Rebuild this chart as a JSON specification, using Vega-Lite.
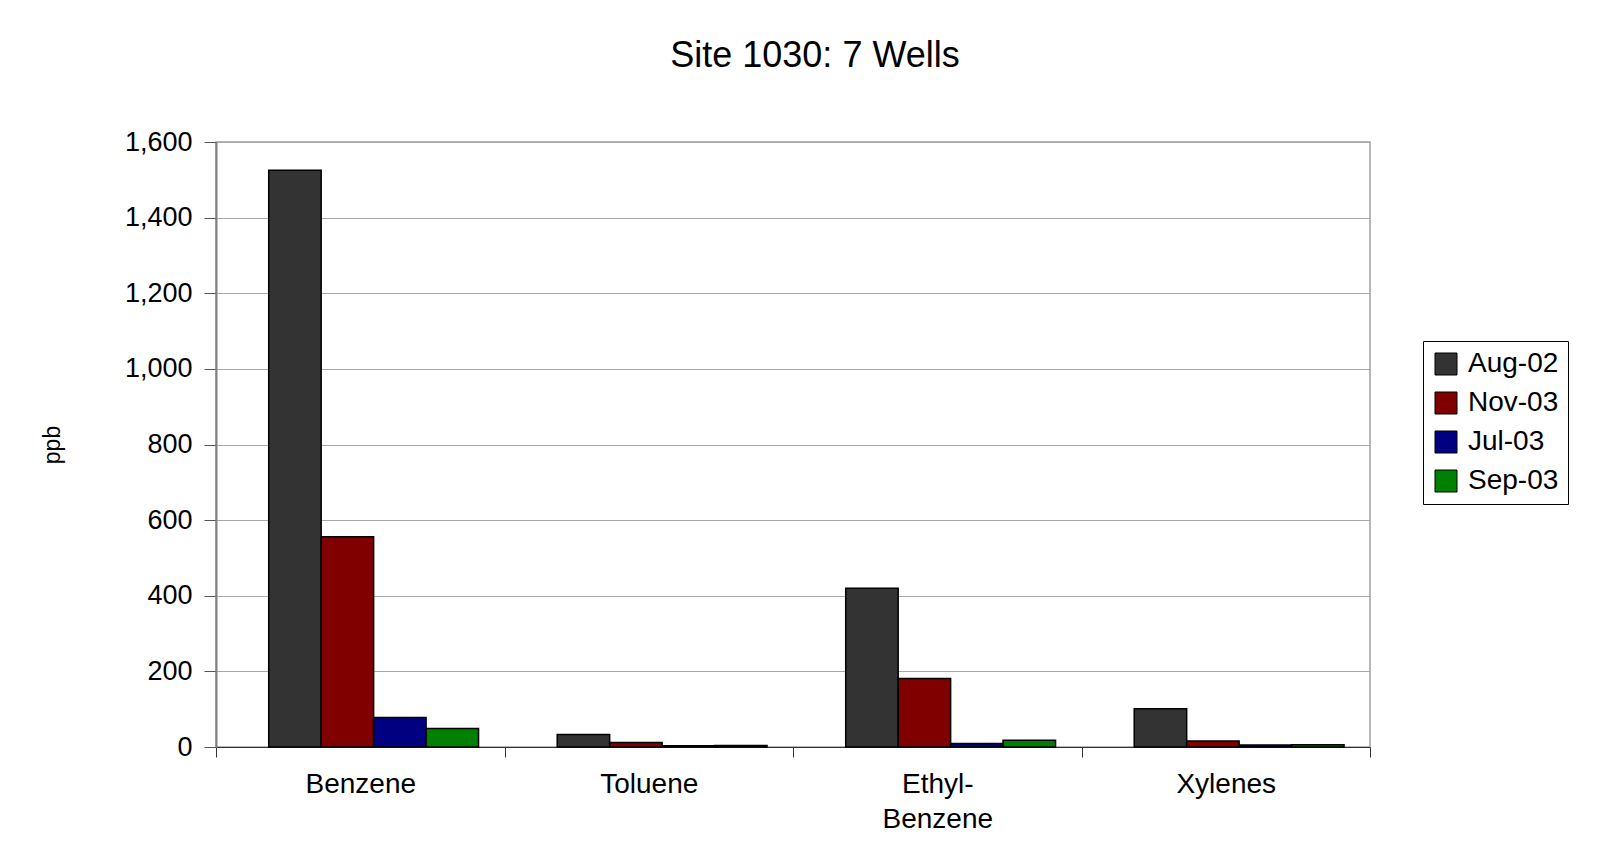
{
  "$schema": "https://vega.github.io/schema/vega-lite/v6.json",
  "autosize": "none",
  "width": 1154,
  "height": 605,
  "padding": {"left": 216, "top": 142, "right": 239, "bottom": 106},
  "background": "white",
  "title": {
    "text": "Site 1030: 7 Wells",
    "anchor": "middle",
    "frame": "group",
    "dx": 22,
    "offset": 53,
    "font": "Liberation Sans",
    "fontSize": 36,
    "fontWeight": "normal",
    "color": "black",
    "limit": 0
  },
  "data": {
    "values": [
      {"compound": "Benzene", "date": "Aug-02", "ppb": 1525},
      {"compound": "Benzene", "date": "Nov-03", "ppb": 556},
      {"compound": "Benzene", "date": "Jul-03", "ppb": 78},
      {"compound": "Benzene", "date": "Sep-03", "ppb": 49},
      {"compound": "Toluene", "date": "Aug-02", "ppb": 33},
      {"compound": "Toluene", "date": "Nov-03", "ppb": 12},
      {"compound": "Toluene", "date": "Jul-03", "ppb": 3},
      {"compound": "Toluene", "date": "Sep-03", "ppb": 4},
      {"compound": "Ethyl-Benzene", "date": "Aug-02", "ppb": 420},
      {"compound": "Ethyl-Benzene", "date": "Nov-03", "ppb": 181},
      {"compound": "Ethyl-Benzene", "date": "Jul-03", "ppb": 9},
      {"compound": "Ethyl-Benzene", "date": "Sep-03", "ppb": 18},
      {"compound": "Xylenes", "date": "Aug-02", "ppb": 101},
      {"compound": "Xylenes", "date": "Nov-03", "ppb": 16},
      {"compound": "Xylenes", "date": "Jul-03", "ppb": 5},
      {"compound": "Xylenes", "date": "Sep-03", "ppb": 6}
    ]
  },
  "mark": {"type": "bar", "stroke": "black", "strokeWidth": 1.5},
  "encoding": {
    "x": {
      "field": "compound",
      "type": "nominal",
      "sort": ["Benzene", "Toluene", "Ethyl-Benzene", "Xylenes"],
      "scale": {"paddingInner": 0, "paddingOuter": 0},
      "axis": {
        "title": null,
        "labelAngle": 0,
        "labelExpr": "datum.value == 'Ethyl-Benzene' ? ['Ethyl-', 'Benzene'] : datum.value",
        "labelFont": "Liberation Sans",
        "labelFontSize": 28,
        "labelColor": "black",
        "labelPadding": 13,
        "labelLineHeight": 35,
        "domainColor": "#333333",
        "tickColor": "#333333",
        "tickSize": 10,
        "tickBand": "extent",
        "grid": false
      }
    },
    "xOffset": {
      "field": "date",
      "type": "nominal",
      "sort": ["Aug-02", "Nov-03", "Jul-03", "Sep-03"],
      "scale": {"paddingInner": 0, "paddingOuter": 0.75, "align": 0.67}
    },
    "y": {
      "field": "ppb",
      "type": "quantitative",
      "scale": {"domain": [0, 1600], "nice": false},
      "axis": {
        "title": "ppb",
        "titleFont": "Liberation Sans",
        "titleFontSize": 23,
        "titleFontWeight": "normal",
        "titleColor": "black",
        "titlePadding": 60,
        "values": [0, 200, 400, 600, 800, 1000, 1200, 1400, 1600],
        "format": ",d",
        "labelFont": "Liberation Sans",
        "labelFontSize": 27,
        "labelColor": "black",
        "labelPadding": 12,
        "tickSize": 12,
        "tickColor": "#555555",
        "domainColor": "#808080",
        "domainWidth": 2,
        "grid": true,
        "gridColor": "#a8a8a8",
        "gridWidth": 1
      }
    },
    "color": {
      "field": "date",
      "type": "nominal",
      "sort": ["Aug-02", "Nov-03", "Jul-03", "Sep-03"],
      "scale": {
        "domain": ["Aug-02", "Nov-03", "Jul-03", "Sep-03"],
        "range": ["#333333", "#800000", "#000080", "#008000"]
      },
      "legend": {
        "title": null,
        "orient": "none",
        "legendX": 1207,
        "legendY": 199,
        "strokeColor": "black",
        "padding": 9,
        "symbolType": "square",
        "symbolSize": 484,
        "symbolStrokeColor": "black",
        "symbolStrokeWidth": 1,
        "symbolOpacity": 1,
        "labelFont": "Liberation Sans",
        "labelFontSize": 28,
        "labelColor": "black",
        "labelOffset": 8,
        "labelLimit": 0,
        "rowPadding": 11
      }
    }
  },
  "config": {
    "view": {"stroke": "#a0a0a0", "strokeWidth": 1.5}
  }
}
